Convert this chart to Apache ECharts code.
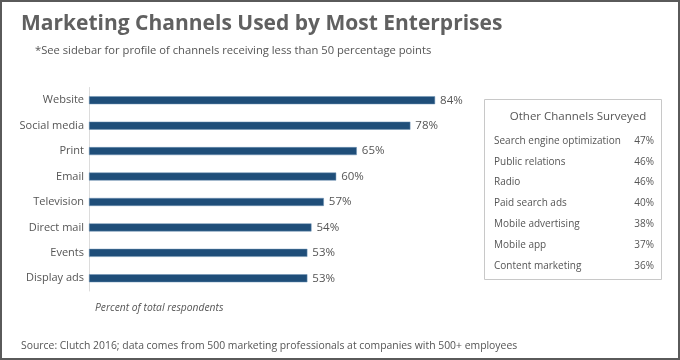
<!DOCTYPE html>
<html><head><meta charset="utf-8">
<script src="https://cdn.jsdelivr.net/npm/echarts@6/dist/echarts.min.js"></script>
<style>html,body{margin:0;padding:0;background:#fff}#c{width:680px;height:360px}</style>
</head><body><div id="c"></div>
<script>
const categories = ['Website','Social media','Print','Email','Television','Direct mail','Events','Display ads'];
const values = [84,78,65,60,57,54,53,53];
const otherChannels = ['Search engine optimization','Public relations','Radio','Paid search ads','Mobile advertising','Mobile app','Content marketing'];
const otherValues = [47,46,46,40,38,37,36];

const FONT = '"Open Sans", sans-serif';
const chart = echarts.init(document.getElementById('c'), null, {renderer:'canvas'});
chart.setOption({
  backgroundColor:'#fff',
  animation:false,
  textStyle:{fontFamily:FONT},
  title:[
    {text:'Marketing Channels Used by Most Enterprises', left:16, top:9,
     textStyle:{fontFamily:FONT, fontSize:21, fontWeight:'bold', color:'#606060'}},
    {text:'*See sidebar for profile of channels receiving less than 50 percentage points', left:30, top:40,
     textStyle:{fontFamily:FONT, fontSize:11.2, fontWeight:'normal', color:'#555'}},
    {text:'Percent of total respondents', left:90, top:298,
     textStyle:{fontFamily:FONT, fontSize:10.3, fontStyle:'italic', fontWeight:'normal', color:'#555'}},
    {text:'Source: Clutch 2016; data comes from 500 marketing professionals at companies with 500+ employees', left:16, top:336,
     textStyle:{fontFamily:FONT, fontSize:10.4, fontWeight:'normal', color:'#555'}},
    {text:'Other Channels Surveyed', left:573, top:106, textAlign:'center',
     textStyle:{fontFamily:FONT, fontSize:11.5, fontWeight:'normal', color:'#555'}}
  ],
  graphic:[
    {type:'rect', shape:{x:1,y:1,width:678,height:358}, style:{fill:'none', stroke:'#5a5a5a', lineWidth:2}, silent:true},
    {type:'rect', shape:{x:484.5,y:99.5,width:177,height:180}, style:{fill:'none', stroke:'#c8c8c8', lineWidth:1}, silent:true}
  ],
  grid:[
    {left:89, width:412, top:87.5, height:203.5},
    {left:494, right:26, top:130.5, height:146}
  ],
  xAxis:[
    {gridIndex:0, type:'value', min:0, max:100, show:false},
    {gridIndex:1, type:'value', min:0, max:100, show:false}
  ],
  yAxis:[
    {gridIndex:0, type:'category', data:categories, inverse:true,
     axisLine:{show:true, lineStyle:{color:'#dcdcdc', width:1}}, axisTick:{show:false},
     axisLabel:{fontFamily:FONT, fontSize:11, color:'#555', margin:5}},
    {gridIndex:1, type:'category', data:otherChannels, inverse:true, position:'left',
     axisLine:{show:false}, axisTick:{show:false},
     axisLabel:{inside:true, margin:0, fontFamily:FONT, fontSize:10, color:'#555'}},
    {gridIndex:1, type:'category', data:otherValues, inverse:true, position:'right',
     axisLine:{show:false}, axisTick:{show:false},
     axisLabel:{inside:true, margin:0, fontFamily:FONT, fontSize:10, color:'#555', formatter:v=>v+'%'}}
  ],
  series:[
    {type:'bar', xAxisIndex:0, yAxisIndex:0, data:values, barWidth:8,
     itemStyle:{color:'#1f4e79', borderColor:'#6f93b5', borderWidth:0.5},
     label:{show:true, position:'right', distance:5, formatter:'{c}%', fontFamily:FONT, fontSize:11.5, color:'#555'}},
    {type:'bar', xAxisIndex:1, yAxisIndex:1, data:otherValues, barWidth:0, itemStyle:{opacity:0}, silent:true}
  ]
});
</script></body></html>
